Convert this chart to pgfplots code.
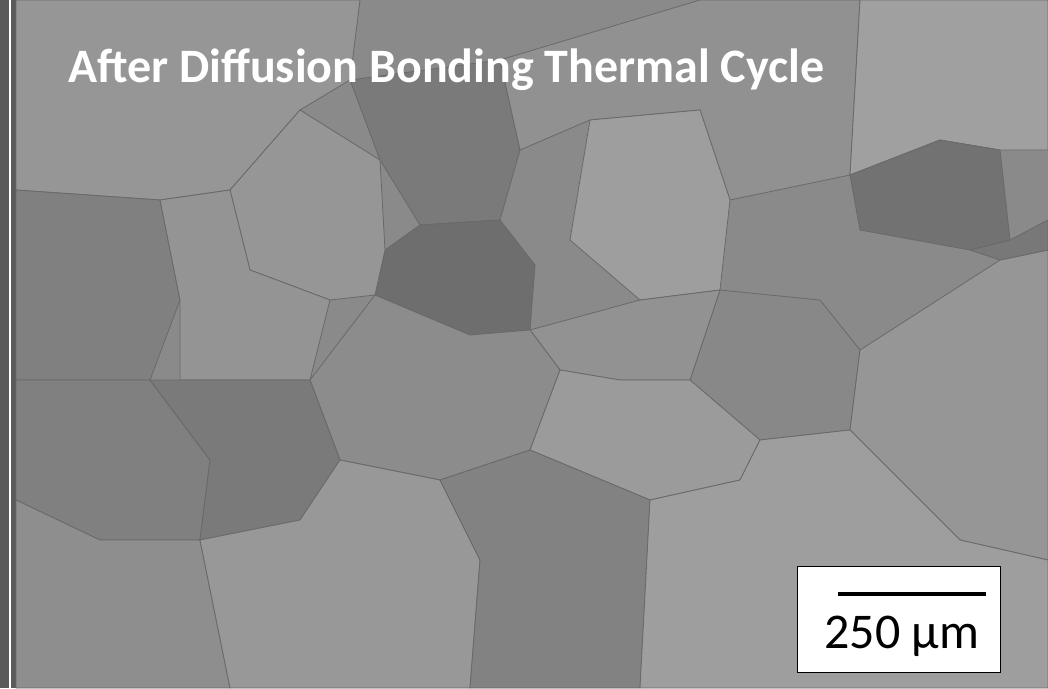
\documentclass[border=0pt]{standalone}
\usepackage{pgfplots}
\pgfplotsset{compat=1.18}
\usepackage{fontspec}
\setmainfont{Carlito}
\begin{document}
\begin{tikzpicture}
\begin{axis}[hide axis, scale only axis, width=1048pt, height=688pt,
  xmin=0, xmax=1048, ymin=0, ymax=688, y dir=reverse, clip=true]
% background
\addplot[fill={rgb,255:red,138;green,138;blue,138}, draw=none] coordinates {(0,0)(1048,0)(1048,688)(0,688)} --cycle;
% left strip
\addplot[fill={rgb,255:red,90;green,90;blue,90}, draw=none] coordinates {(0,0)(16,0)(16,688)(0,688)} --cycle;
\addplot[white, line width=2pt] coordinates {(10,0)(10,688)};
% grains
\pgfplotsset{grain/.style={draw={rgb,255:red,105;green,105;blue,105}, line width=0.8pt}}
\addplot[grain, fill={rgb,255:red,150;green,150;blue,150}] coordinates {(16,0)(360,0)(350,80)(300,110)(230,190)(160,200)(16,190)} --cycle;
\addplot[grain, fill={rgb,255:red,122;green,122;blue,122}] coordinates {(350,80)(500,60)(520,150)(500,220)(420,225)(380,160)} --cycle;
\addplot[grain, fill={rgb,255:red,145;green,145;blue,145}] coordinates {(500,60)(700,0)(860,0)(850,175)(730,200)(700,110)(590,120)(520,150)} --cycle;
\addplot[grain, fill={rgb,255:red,160;green,160;blue,160}] coordinates {(860,0)(1048,0)(1048,150)(1000,150)(940,140)(850,175)} --cycle;
\addplot[grain, fill={rgb,255:red,110;green,110;blue,110}] coordinates {(420,225)(500,220)(535,265)(530,330)(470,335)(375,295)(385,250)} --cycle;
\addplot[grain, fill={rgb,255:red,114;green,114;blue,114}] coordinates {(850,175)(940,140)(1000,150)(1010,240)(970,250)(860,230)} --cycle;
\addplot[grain, fill={rgb,255:red,158;green,158;blue,158}] coordinates {(590,120)(700,110)(730,200)(720,290)(640,300)(570,240)} --cycle;
\addplot[grain, fill={rgb,255:red,150;green,150;blue,150}] coordinates {(230,190)(300,110)(380,160)(385,250)(375,295)(330,300)(250,270)} --cycle;
\addplot[grain, fill={rgb,255:red,128;green,128;blue,128}] coordinates {(16,190)(160,200)(180,300)(150,380)(16,380)} --cycle;
\addplot[grain, fill={rgb,255:red,148;green,148;blue,148}] coordinates {(160,200)(230,190)(250,270)(330,300)(310,380)(180,380)(180,300)} --cycle;
\addplot[grain, fill={rgb,255:red,136;green,136;blue,136}] coordinates {(720,290)(820,300)(860,350)(850,430)(760,440)(690,380)} --cycle;
\addplot[grain, fill={rgb,255:red,146;green,146;blue,146}] coordinates {(530,330)(640,300)(720,290)(690,380)(620,380)(560,370)} --cycle;
\addplot[grain, fill={rgb,255:red,140;green,140;blue,140}] coordinates {(310,380)(375,295)(470,335)(530,330)(560,370)(530,450)(440,480)(340,460)} --cycle;
\addplot[grain, fill={rgb,255:red,128;green,128;blue,128}] coordinates {(16,380)(150,380)(210,460)(200,540)(100,540)(16,500)} --cycle;
\addplot[grain, fill={rgb,255:red,122;green,122;blue,122}] coordinates {(150,380)(310,380)(340,460)(300,520)(200,540)(210,460)} --cycle;
\addplot[grain, fill={rgb,255:red,155;green,155;blue,155}] coordinates {(560,370)(620,380)(690,380)(760,440)(740,480)(650,500)(530,450)} --cycle;
\addplot[grain, fill={rgb,255:red,150;green,150;blue,150}] coordinates {(860,350)(1000,260)(1048,250)(1048,560)(960,540)(850,430)} --cycle;
\addplot[grain, fill={rgb,255:red,120;green,120;blue,120}] coordinates {(970,250)(1010,240)(1048,220)(1048,250)(1000,260)} --cycle;
\addplot[grain, fill={rgb,255:red,142;green,142;blue,142}] coordinates {(16,500)(100,540)(200,540)(230,688)(16,688)} --cycle;
\addplot[grain, fill={rgb,255:red,152;green,152;blue,152}] coordinates {(200,540)(300,520)(340,460)(440,480)(480,560)(470,688)(230,688)} --cycle;
\addplot[grain, fill={rgb,255:red,130;green,130;blue,130}] coordinates {(440,480)(530,450)(650,500)(640,688)(470,688)(480,560)} --cycle;
\addplot[grain, fill={rgb,255:red,158;green,158;blue,158}] coordinates {(650,500)(740,480)(760,440)(850,430)(960,540)(1048,560)(1048,688)(640,688)} --cycle;
% scale bar box
\addplot[fill=white, draw=black, line width=1pt] coordinates {(797,566)(1000,566)(1000,672)(797,672)} --cycle;
\addplot[black, line width=4pt] coordinates {(838,594)(986,594)};
\node[font=\fontsize{50}{58}\selectfont] at (axis cs:902,636) {250 μm};
\node[anchor=west, text=white, font=\bfseries\fontsize{48}{56}\selectfont, inner sep=0pt] at (axis cs:68,70) {After Diffusion Bonding Thermal Cycle};
\end{axis}
\end{tikzpicture}
\end{document}
